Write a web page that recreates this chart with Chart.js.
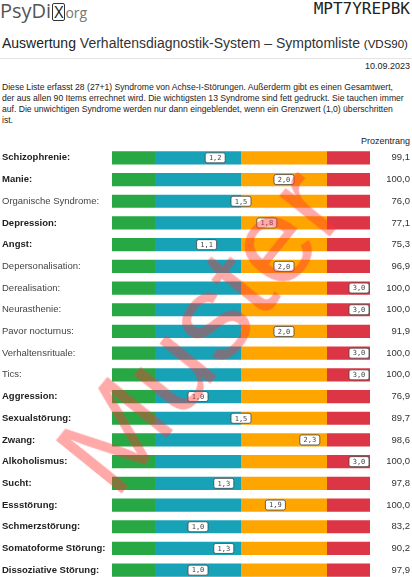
<!DOCTYPE html>
<html><head><meta charset="utf-8">
<script src="https://cdn.jsdelivr.net/npm/chart.js@4"></script>
<style>
body{margin:0;width:412px;height:577px;overflow:hidden;font-family:"Liberation Sans",Arial,sans-serif;color:#222;position:relative;background:#fff}
.logo{position:absolute;left:0;top:-3px;font-size:20px;color:#555;font-family:"Open Sans",sans-serif}
.logo .x{display:inline-block;border:1.5px solid #333;border-radius:2px;font-size:16px;line-height:16px;padding:0 1px;color:#222;margin-left:1px}
.logo .org{font-size:14px;color:#777}
.code{position:absolute;right:2px;top:-1px;font-family:"DejaVu Sans Mono",monospace;font-size:16px;color:#222}
.title{position:absolute;left:2px;top:35px;font-size:14px;color:#222;white-space:nowrap}
.title small{font-size:11.5px}
.hr{position:absolute;left:0;right:0;top:58px;border-top:1px solid #e4e4e4}
.date{position:absolute;right:2px;top:61px;font-size:9px}
.para{position:absolute;left:2px;right:6px;top:82px;font-size:8.6px;line-height:11px}
.pr{position:absolute;right:2px;top:136px;font-size:9px}
canvas{position:absolute;left:0;top:147px}
.wm{position:absolute;left:200px;top:330px;font-size:122px;line-height:1;color:rgba(255,50,50,0.42);transform:translate(-50%,-50%) rotate(-51deg);font-family:"Liberation Sans",sans-serif;pointer-events:none;white-space:nowrap}
</style></head><body>
<div class="logo">PsyDi<span class="x">X</span><span class="org">org</span></div>
<div class="code">MPT7YREPBK</div>
<div class="title">Auswertung <span style="color:#333">Verhaltensdiagnostik-System – Symptomliste</span> <small>(VDS90)</small></div>
<div class="hr"></div>
<div class="date">10.09.2023</div>
<div class="para">Diese Liste erfasst 28 (27+1) Syndrome von Achse-I-Störungen. Außerderm gibt es einen Gesamtwert, der aus allen 90 Items errechnet wird. Die wichtigsten 13 Syndrome sind fett gedruckt. Sie tauchen immer auf. Die unwichtigen Syndrome werden nur dann eingeblendet, wenn ein Grenzwert (1,0) überschritten ist.</div>
<div class="pr">Prozentrang</div>
<canvas id="c" width="412" height="440"></canvas>
<div class="wm">Muster</div>
<script>
const categories=["Schizophrenie","Manie","Organische Syndrome","Depression","Angst","Depersonalisation","Derealisation","Neurasthenie","Pavor nocturnus","Verhaltensrituale","Tics","Aggression","Sexualstörung","Zwang","Alkoholismus","Sucht","Essstörung","Schmerzstörung","Somatoforme Störung","Dissoziative Störung"];
const bold=[1,1,0,1,1,0,0,0,0,0,0,1,1,1,1,1,1,1,1,1];
const values=[1.2,2.0,1.5,1.8,1.1,2.0,3.0,3.0,2.0,3.0,3.0,1.0,1.5,2.3,3.0,1.3,1.9,1.0,1.3,1.0];
const percentiles=["99,1","100,0","76,0","77,1","75,3","96,9","100,0","100,0","91,9","100,0","100,0","76,9","89,7","98,6","100,0","97,8","100,0","83,2","90,2","97,9"];
const bandWidths=[0.5,1,1,0.5];
const bandColors=["#28a745","#17a2b8","#ffa500","#dc3545"];
const datasets=bandWidths.map((w,i)=>({data:categories.map(()=>w),backgroundColor:bandColors[i],barPercentage:0.61,categoryPercentage:1,borderWidth:0}));
const overlay={id:'ov',afterDatasetsDraw(ch){
 const c=ch.ctx,x=ch.scales.x,y=ch.scales.y;
 c.save();
 categories.forEach((n,i)=>{
  const py=y.getPixelForValue(i);
  c.textBaseline='middle';
  c.fillStyle=bold[i]?'#222':'#444';
  c.font=(bold[i]?'bold ':'')+'9.5px "Liberation Sans"';
  c.textAlign='left';c.fillText(n+':',2,py);
  c.fillStyle='#333';
  c.font='9.5px "Liberation Sans"';c.textAlign='right';c.fillText(percentiles[i],410,py);
  let px=x.getPixelForValue(values[i]);
  const w=20,h=10;px=Math.min(px,x.right-w/2-1);
  c.beginPath();c.roundRect(px-w/2,py-h/2,w,h,2);c.fillStyle='#fff';c.fill();
  c.strokeStyle='#444';c.lineWidth=0.8;c.stroke();
  c.fillStyle='#444';c.textAlign='center';c.font='7px "DejaVu Sans Mono"';
  c.fillText(values[i].toFixed(1).replace('.',','),px,py+0.5);
 });
 c.restore();}};
new Chart(document.getElementById('c'),{type:'bar',data:{labels:categories,datasets},
 options:{indexAxis:'y',responsive:false,animation:false,layout:{padding:{left:112,right:42,top:0,bottom:6}},
 plugins:{legend:{display:false},tooltip:{enabled:false}},
 scales:{x:{stacked:true,min:0,max:3,display:false},y:{stacked:true,display:false}}},plugins:[overlay]});
</script></body></html>
